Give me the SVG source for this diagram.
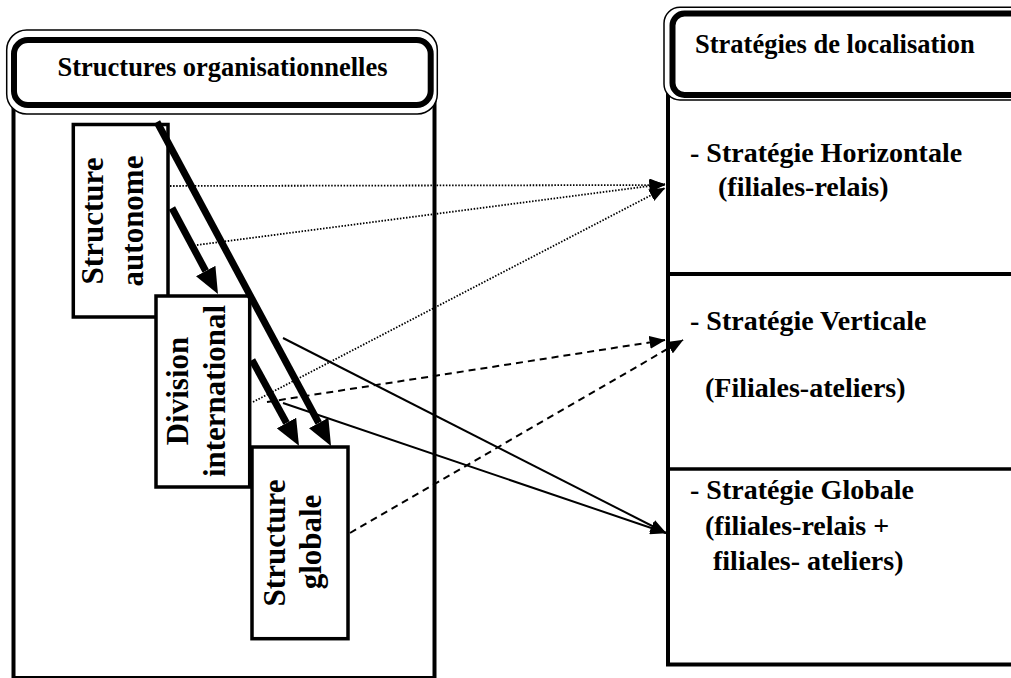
<svg xmlns="http://www.w3.org/2000/svg" width="1011" height="678" viewBox="0 0 1011 678">
  <style>
    text { font-family: "Liberation Serif", "Times New Roman", serif; font-weight: bold; fill: #000; }
    .head { font-size: 26.5px; }
    .item { font-size: 28px; }
    .vert { font-size: 31px; }
    .box { fill: #fff; stroke: #000; stroke-width: 3.5; }
    .frame { fill: none; stroke: #000; stroke-width: 4; }
    .thin-outline { fill: #fff; stroke: #000; stroke-width: 1.5; }
    .thick-outline { fill: #fff; stroke: #000; stroke-width: 6; }
    .heavy { stroke: #000; stroke-width: 7; fill: none; marker-end: url(#headBig); }
    .dotted { stroke: #000; stroke-width: 1.8; stroke-dasharray: 1.5 1.6; fill: none; marker-end: url(#headSmall); }
    .dashed { stroke: #000; stroke-width: 2; stroke-dasharray: 7 5; fill: none; marker-end: url(#headSmall); }
    .solid { stroke: #000; stroke-width: 2; fill: none; marker-end: url(#headSmall); }
  </style>
  <defs>
    <marker id="headBig" markerUnits="userSpaceOnUse" markerWidth="26" markerHeight="22" refX="0" refY="11" orient="auto">
      <path d="M0,0 L26,11 L0,22 z" fill="#000"/>
    </marker>
    <marker id="headSmall" markerUnits="userSpaceOnUse" markerWidth="16" markerHeight="13" refX="15.5" refY="6.5" orient="auto">
      <path d="M0,0 L16,6.5 L0,13 z" fill="#000"/>
    </marker>
  </defs>

  <rect width="1011" height="678" fill="#fff"/>

  <!-- Left column: organisational structures -->
  <g id="structures-panel">
    <rect class="frame" x="13.5" y="100" width="421" height="578"/>
    <rect class="thin-outline" x="6.7" y="30" width="430.6" height="84" rx="20"/>
    <rect class="thick-outline" x="14" y="40" width="416.7" height="65" rx="14"/>
    <text class="head" x="222.5" y="76" text-anchor="middle">Structures organisationnelles</text>
  </g>

  <!-- Right column: localisation strategies -->
  <g id="strategies-panel">
    <rect class="frame" x="668" y="95" width="400" height="569.5"/>
    <line x1="668" y1="274" x2="1011" y2="274" stroke="#000" stroke-width="4"/>
    <line x1="668" y1="469" x2="1011" y2="469" stroke="#000" stroke-width="3.5"/>
    <rect class="thin-outline" x="664" y="7.3" width="400" height="92.7" rx="16"/>
    <rect class="thick-outline" x="672.5" y="13.5" width="400" height="81.5" rx="12"/>
    <text class="head" x="695" y="53.3">Stratégies de localisation</text>
  </g>

  <g id="strategy-horizontal">
    <text class="item" x="690" y="162">- Stratégie Horizontale</text>
    <text class="item" x="718" y="196">(filiales-relais)</text>
  </g>

  <g id="strategy-vertical">
    <text class="item" x="690" y="330">- Stratégie Verticale</text>
    <text class="item" x="705" y="397">(Filiales-ateliers)</text>
  </g>

  <g id="strategy-global">
    <text class="item" x="690" y="499">- Stratégie Globale</text>
    <text class="item" x="705" y="535">(filiales-relais +</text>
    <text class="item" x="713" y="570">filiales- ateliers)</text>
  </g>

  <!-- Structure boxes (each later box overlaps the previous one) -->
  <g id="structure-autonome">
    <rect class="box" x="73.3" y="124.5" width="94.7" height="192.5"/>
    <text class="vert" transform="translate(103,221) rotate(-90)" text-anchor="middle">Structure</text>
    <text class="vert" transform="translate(143,221) rotate(-90)" text-anchor="middle">autonome</text>
  </g>

  <g id="division-internationale">
    <rect class="box" x="156" y="296" width="93.7" height="191"/>
    <text class="vert" transform="translate(188,391) rotate(-90)" text-anchor="middle">Division</text>
    <text class="vert" transform="translate(225,391) rotate(-90)" text-anchor="middle">international</text>
  </g>

  <g id="structure-globale">
    <rect class="box" x="252" y="447" width="96" height="191.7"/>
    <text class="vert" transform="translate(285,543) rotate(-90)" text-anchor="middle">Structure</text>
    <text class="vert" transform="translate(321,542) rotate(-90)" text-anchor="middle">globale</text>
  </g>

  <!-- Connectors -->
  <g id="connectors">
    <!-- evolution between structures -->
    <line class="heavy" x1="157" y1="122" x2="318.7" y2="423"/>
    <line class="heavy" x1="172" y1="208" x2="205.7" y2="271"/>
    <line class="heavy" x1="252" y1="360" x2="286.5" y2="423"/>

    <!-- links to the horizontal strategy -->
    <line class="dotted" x1="170" y1="186" x2="665" y2="185"/>
    <line class="dotted" x1="197" y1="245" x2="665" y2="184"/>
    <line class="dotted" x1="253" y1="402" x2="665" y2="188"/>

    <!-- links to the vertical strategy -->
    <line class="dashed" x1="267" y1="402" x2="665" y2="340"/>
    <line class="dashed" x1="350" y1="533" x2="683" y2="340"/>

    <!-- links to the global strategy -->
    <line class="solid" x1="283" y1="338" x2="666" y2="533"/>
    <line class="solid" x1="283" y1="403" x2="666" y2="533"/>
  </g>
</svg>
